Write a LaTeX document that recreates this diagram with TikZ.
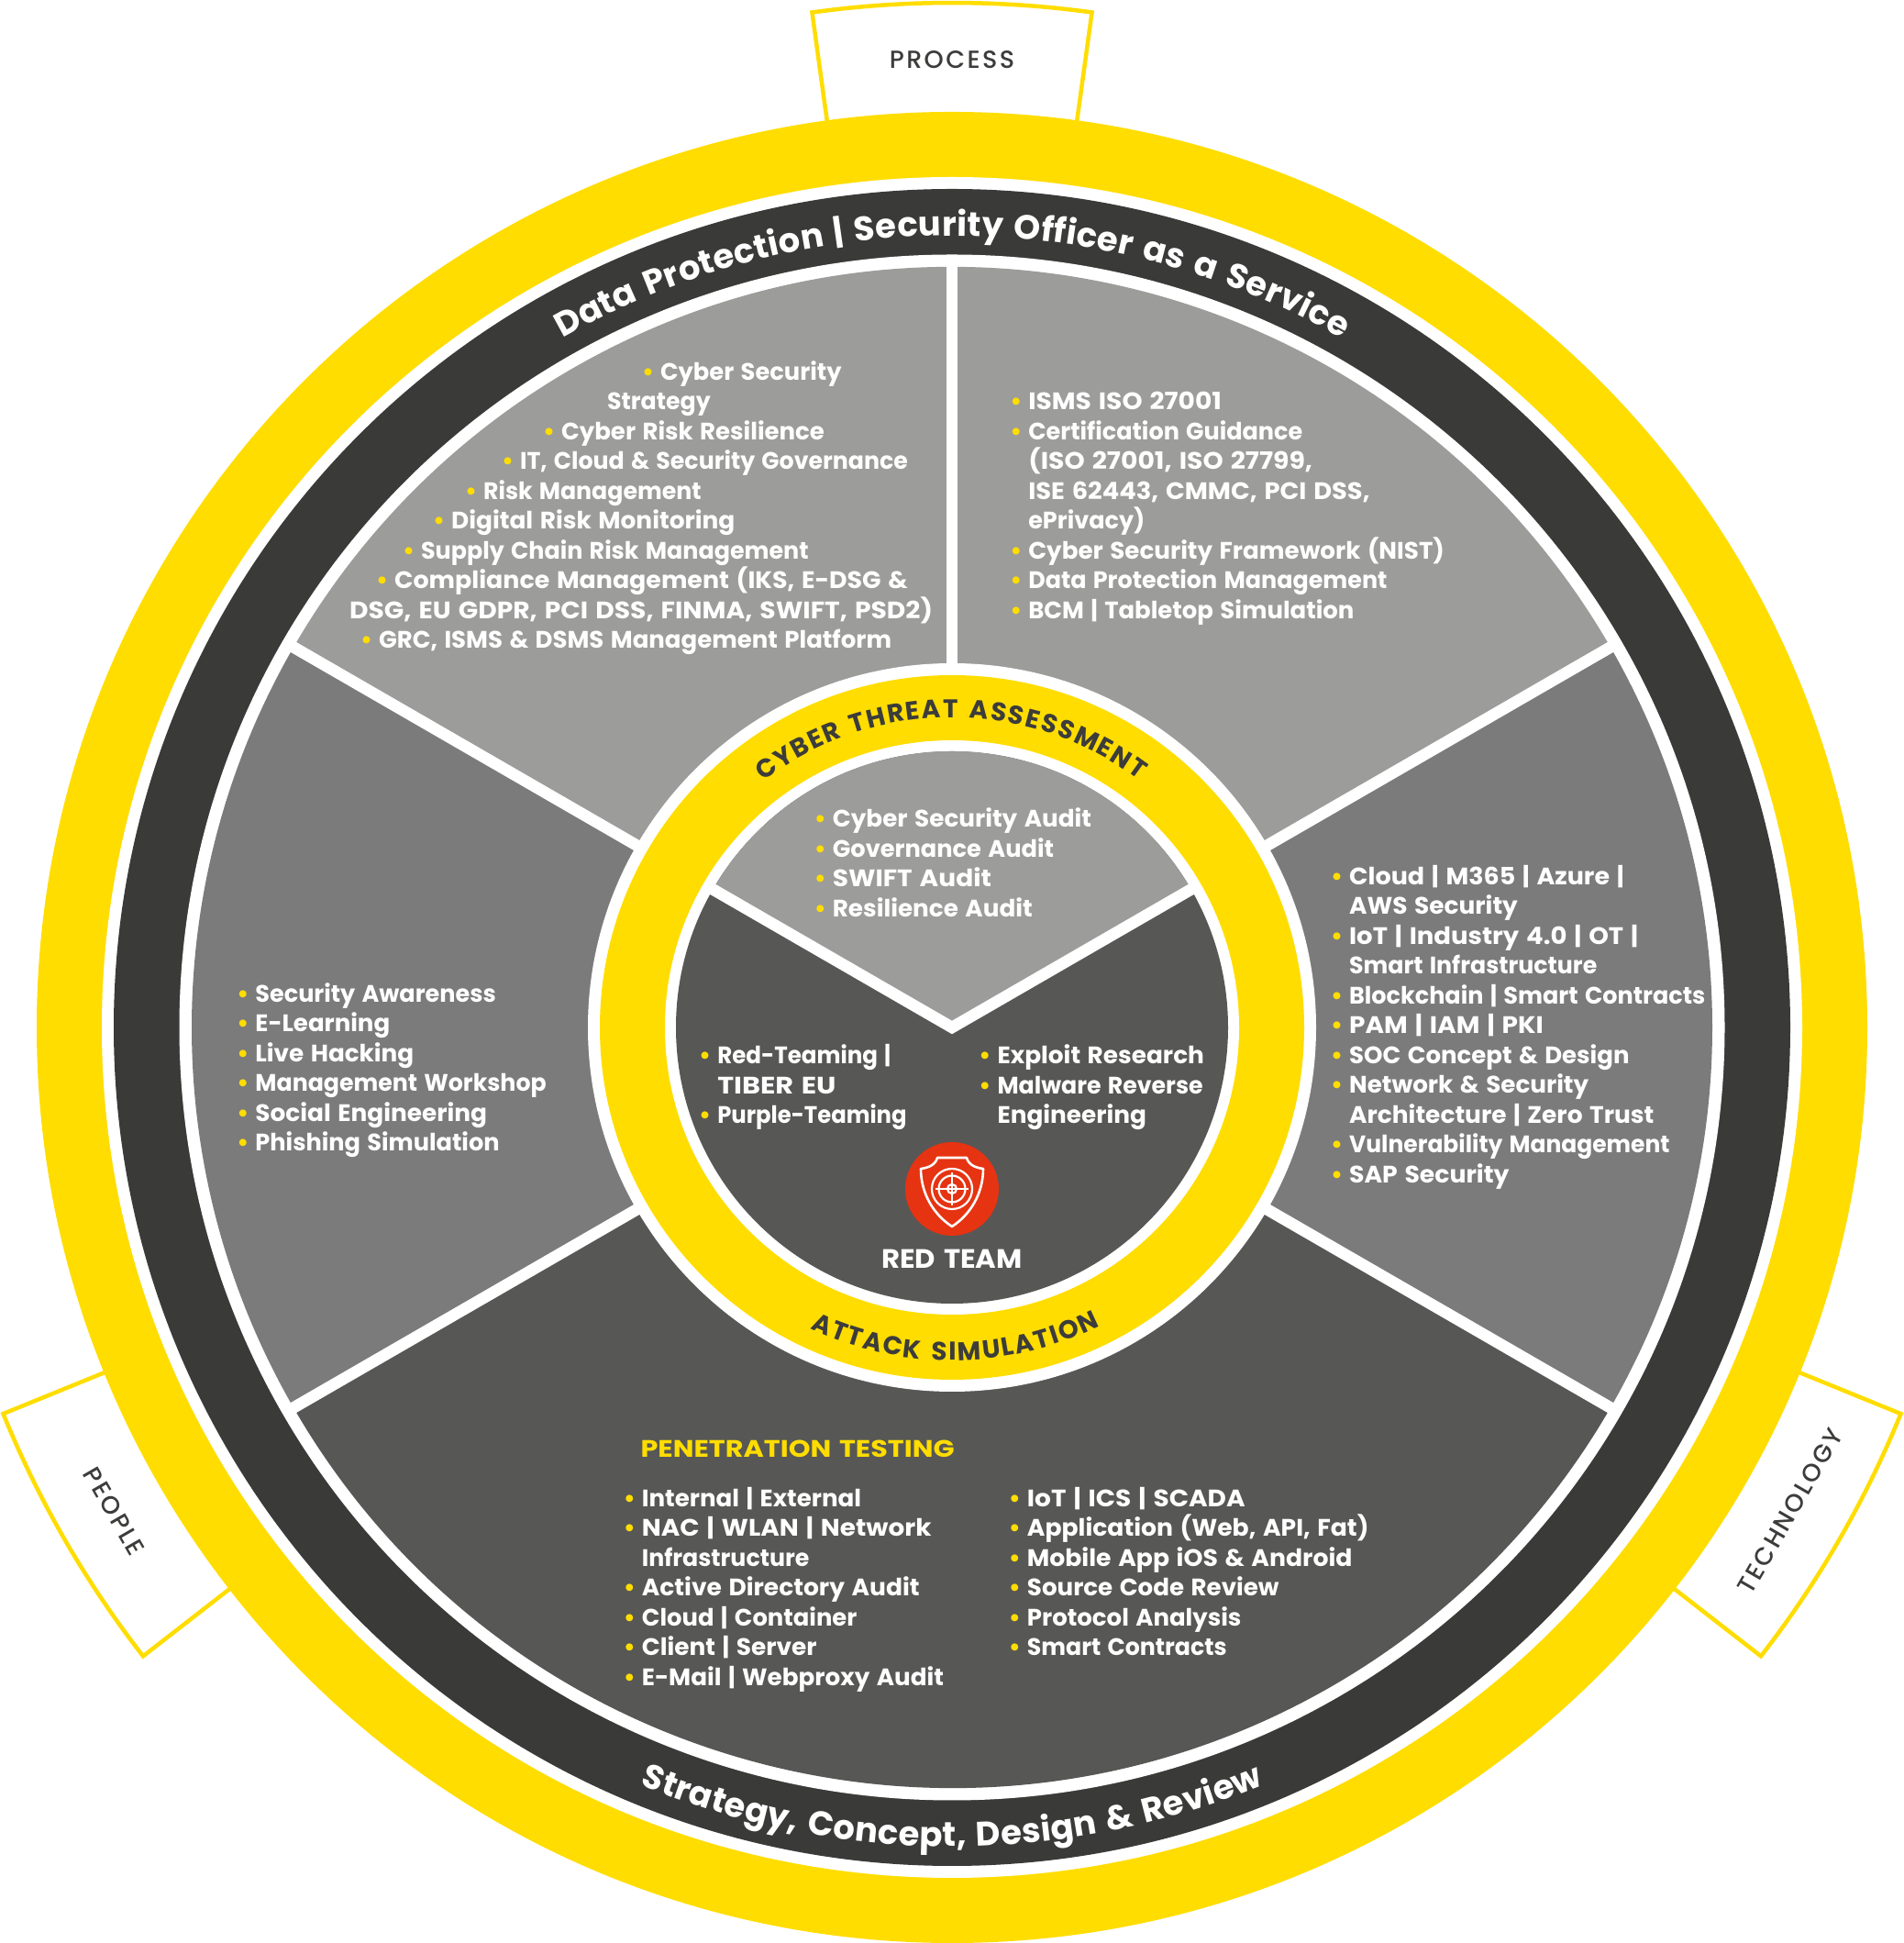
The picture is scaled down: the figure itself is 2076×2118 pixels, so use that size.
\documentclass[tikz,border=0pt]{standalone}
\usepackage{fontspec}
\usepackage{graphicx}
\setmainfont{Poppins}[BoldFont={Poppins Bold},BoldFeatures={WordSpace=1.35}]
\newfontfamily\popmed{Poppins Medium}
\usetikzlibrary{decorations.text}
\definecolor{yel}{HTML}{FFDD00}
\definecolor{ringdark}{HTML}{3A3A39}
\definecolor{seclight}{HTML}{9C9C9B}
\definecolor{secmid}{HTML}{7B7B7B}
\definecolor{secdark}{HTML}{575756}
\definecolor{redc}{HTML}{E63312}
\definecolor{labelc}{HTML}{3C3C3B}
\newcommand{\wtfix}{1.03}
\newcommand{\fitline}[2]{\smash{\scalebox{\fpeval{#1/\wtfix}}[1]{#2}}}
\newcommand{\itm}[2][1]{\strut\llap{\textcolor{yel}{•}\hspace{7pt}}\fitline{#1}{#2}}
\newcommand{\cnt}[2][1]{\strut\fitline{#1}{#2}}
\newcommand{\blk}[3]{\node[txt] (#1) at ({1.3507*#2},{2118-1.3507*(#3)+13.75})}
\newcommand{\tab}[3]{%
  \draw[tabline,fill=white] (#1+7.85:990) -- (#1+7.85:1117) arc[start angle=#1+7.85,end angle=#1-7.85,radius=1117pt] -- (#1-7.85:990);
  \node[tablabel,rotate=#3] (#2) at (#1:1055) {#2};}
\tikzset{
  txt/.style={anchor=north west,inner sep=0pt,align=left,text=white,font=\fontsize{26}{32.5}\selectfont\bfseries},
  tabline/.style={draw=yel,line width=4.5pt},
  tablabel/.style={text=labelc,inner sep=0pt,font=\popmed\fontsize{27}{30}\selectfont\addfontfeatures{LetterSpace=9}},
  divider/.style={draw=white,line width=12.6pt},
  curved/.style={decorate,decoration={text along path,text format delimiters={^}{^},text={#1},text align={fit to path}}},
}
\begin{document}
\begin{tikzpicture}[x=1pt,y=1pt]
\useasboundingbox (0,0) rectangle (2076,2118);
\fill[white] (0,0) rectangle (2076,2118);
\begin{scope}[shift={(1038,998)}]
  \tab{90}{PROCESS}{0}
  \tab{210}{PEOPLE}{-60}
  \tab{330}{TECHNOLOGY}{60}
  \fill[yel] (0,0) circle[radius=998pt];
  \fill[white] (0,0) circle[radius=927pt];
  \fill[ringdark] (0,0) circle[radius=914pt];
  \fill[white] (0,0) circle[radius=842.5pt];
  \fill[seclight] (0,0) -- (30:829) arc[start angle=30,end angle=150,radius=829pt] -- cycle;
  \fill[secmid] (0,0) -- (150:829) arc[start angle=150,end angle=210,radius=829pt] -- cycle;
  \fill[secdark] (0,0) -- (210:829) arc[start angle=210,end angle=330,radius=829pt] -- cycle;
  \fill[secmid] (0,0) -- (-30:829) arc[start angle=-30,end angle=30,radius=829pt] -- cycle;
  \foreach \a in {30,90,150,210,330} \draw[divider] (0,0) -- (\a:832);
  \fill[white] (0,0) circle[radius=397pt];
  \fill[yel] (0,0) circle[radius=384pt];
  \fill[white] (0,0) circle[radius=313pt];
  \fill[secdark] (0,0) circle[radius=301pt];
  \fill[seclight] (0,0) -- (30:301) arc[start angle=30,end angle=150,radius=301pt] -- cycle;
  \draw[divider,line join=miter] (150:304) -- (0,0) -- (30:304);
  % curved labels
  \path[curved={^\fontsize{37}{37}\selectfont\bfseries\color{white}^Data Protection | Security Officer as a Service}]
    (119.5:863) arc[start angle=119.5,end angle=60.5,radius=863pt];
  \path[curved={^\fontsize{37}{37}\selectfont\bfseries\color{white}^Strategy, Concept, Design {\&} Review}]
    (247.6:893) arc[start angle=247.6,end angle=292.4,radius=893pt];
  \path[curved={^\fontsize{28}{28}\selectfont\bfseries\color{labelc}^CYBER THREAT ASSESSMENT}]
    (127.5:338) arc[start angle=127.5,end angle=53,radius=338pt];
  \path[curved={^\fontsize{28}{28}\selectfont\bfseries\color{labelc}^ATTACK SIMULATION}]
    (244.8:363) arc[start angle=244.8,end angle=296.4,radius=363pt];
  % red team badge
  \begin{scope}[shift={(0,-176)}]
    \fill[redc] (0,0) circle[radius=51pt];
    \draw[white,line width=2.6pt,line join=round] (-16,34) -- (16,34) .. controls (18,26) and (26,23) .. (34,22) .. controls (34,-5) and (20,-28) .. (0,-41) .. controls (-20,-28) and (-34,-5) .. (-34,22) .. controls (-26,23) and (-18,26) .. (-16,34) -- cycle;
    \draw[white,line width=2.2pt] (0,0) circle[radius=22pt] (0,0) circle[radius=14.5pt] (0,0) circle[radius=5pt];
    \draw[white,line width=2.2pt] (-18,0) -- (18,0) (0,-18) -- (0,18);
  \end{scope}
\end{scope}
% top-left sector
\blk{topleft}{282}{300}{%
\hspace*{339pt}\itm[1.02]{Cyber Security}\\
\hspace*{281pt}\cnt{Strategy}\\
\hspace*{231pt}\itm[1.03]{Cyber Risk Resilience}\\
\hspace*{186pt}\itm{IT, Cloud \& Security Governance}\\
\hspace*{146pt}\itm{Risk Management}\\
\hspace*{111pt}\itm[1.046]{Digital Risk Monitoring}\\
\hspace*{78pt}\itm[1.006]{Supply Chain Risk Management}\\
\hspace*{49pt}\itm[1.064]{Compliance Management (IKS, E-DSG \&}\\
\cnt[1.117]{DSG, EU GDPR, PCI DSS, FINMA, SWIFT, PSD2)}\\
\hspace*{32pt}\itm[1.03]{GRC, ISMS \& DSMS Management Platform}};
% top-right sector
\blk{topright}{830}{324}{%
\itm[1.113]{ISMS ISO 27001}\\
\itm[1.01]{Certification Guidance}\\
\cnt[1.12]{(ISO 27001, ISO 27799,}\\
\cnt[1.083]{ISE 62443, CMMC, PCI DSS,}\\
\cnt[1.01]{ePrivacy)}\\
\itm[1.037]{Cyber Security Framework (NIST)}\\
\itm[1.007]{Data Protection Management}\\
\itm[1.027]{BCM | Tabletop Simulation}};
% left sector
\blk{leftsec}{206}{802}{%
\itm[1.01]{Security Awareness}\\
\itm[1.03]{E-Learning}\\
\itm[1.04]{Live Hacking}\\
\itm{Management Workshop}\\
\itm[1.044]{Social Engineering}\\
\itm[1.015]{Phishing Simulation}};
% right sector
\blk{rightsec}{1089}{707}{%
\itm[1.068]{Cloud | M365 | Azure |}\\
\cnt[1.046]{AWS Security}\\
\itm[1.09]{IoT | Industry 4.0 | OT |}\\
\cnt{Smart Infrastructure}\\
\itm[1.01]{Blockchain | Smart Contracts}\\
\itm[1.108]{PAM | IAM | PKI}\\
\itm[1.03]{SOC Concept \& Design}\\
\itm[1.038]{Network \& Security}\\
\cnt[1.047]{Architecture | Zero Trust}\\
\itm[0.99]{Vulnerability Management}\\
\itm[1.058]{SAP Security}};
% centre
\blk{audit}{672}{661}{%
\itm[1.04]{Cyber Security Audit}\\
\itm[1.017]{Governance Audit}\\
\itm[1.11]{SWIFT Audit}\\
\itm[1.04]{Resilience Audit}};
\blk{redleft}{579}{852}{%
\itm[0.973]{Red-Teaming |}\\
\cnt[1.2]{TIBER EU}\\
\itm[0.963]{Purple-Teaming}};
\blk{redright}{805}{852}{%
\itm[1.044]{Exploit Research}\\
\itm{Malware Reverse}\\
\cnt[1.043]{Engineering}};
\node[inner sep=0pt,text=white,font=\fontsize{29}{32}\selectfont\bfseries] (redteam) at (1038,{2118-1372}) {\scalebox{1.06}[1]{RED TEAM}};
% penetration testing
\blk{pentitle}{517}{1169}{\cnt[1.2]{\textcolor{yel}{PENETRATION TESTING}}};
\blk{penleft}{518}{1209}{%
\itm[1.035]{Internal | External}\\
\itm[1.105]{NAC | WLAN | Network}\\
\cnt{Infrastructure}\\
\itm[1.05]{Active Directory Audit}\\
\itm[1.023]{Cloud | Container}\\
\itm[1.044]{Client | Server}\\
\itm[1.038]{E-Mail | Webproxy Audit}};
\blk{penright}{829}{1209}{%
\itm[1.108]{IoT | ICS | SCADA}\\
\itm[1.054]{Application (Web, API, Fat)}\\
\itm[1.056]{Mobile App iOS \& Android}\\
\itm[1.035]{Source Code Review}\\
\itm[1.03]{Protocol Analysis}\\
\itm{Smart Contracts}};
\end{tikzpicture}
\end{document}
